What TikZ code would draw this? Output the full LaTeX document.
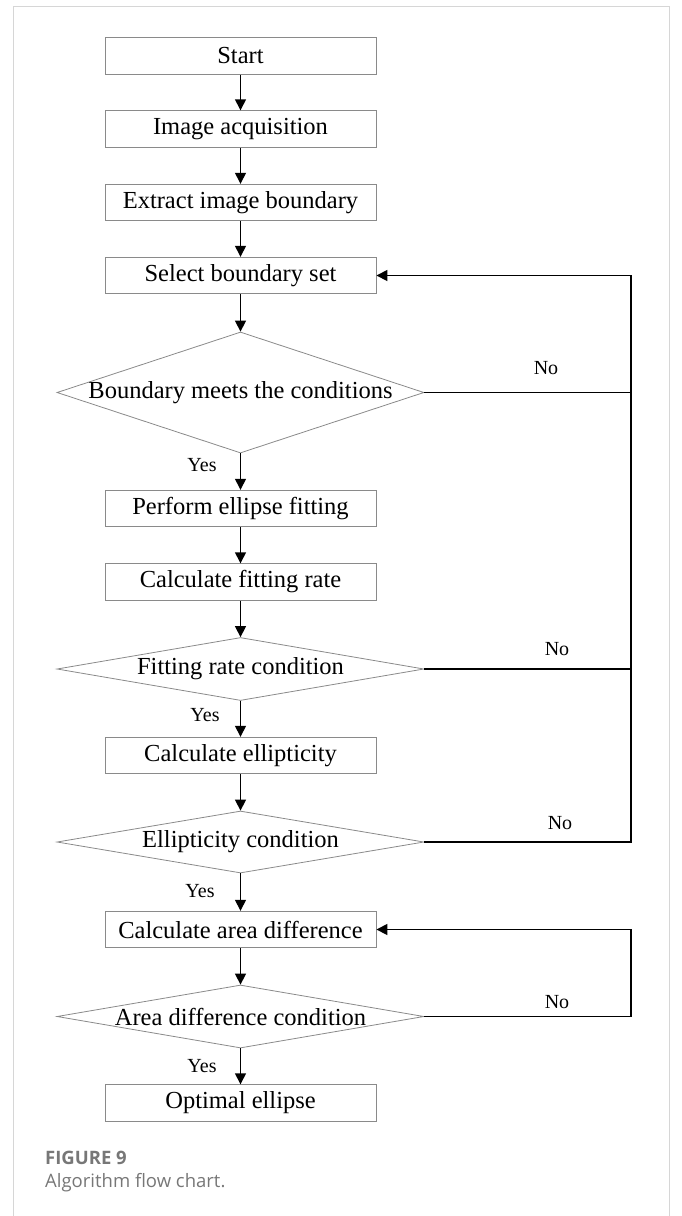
\documentclass[tikz,border=0pt]{standalone}
\usepackage{fontspec}
\setmainfont{Liberation Serif}
\newfontfamily\capfont{Open Sans}
\usetikzlibrary{shapes.geometric,arrows.meta}
\definecolor{boxgray}{HTML}{8A8A8A}
\definecolor{framegray}{HTML}{D6D6D6}
\definecolor{capgray}{HTML}{777777}
\begin{document}
\begin{tikzpicture}[x=1pt,y=-1pt,
  procbox/.style={draw=boxgray, line width=0.9pt, minimum width=271pt, minimum height=36.5pt, inner sep=0pt, font=\fontsize{24.5}{28}\selectfont},
  decbox/.style={draw=boxgray, line width=0.8pt, shape=diamond, minimum width=367pt, inner sep=0pt},
  dtext/.style={font=\fontsize{24.5}{28}\selectfont, inner sep=0pt},
  flow/.style={line width=1.4pt, -{Triangle[length=11pt,width=11pt]}},
  loopline/.style={line width=1.7pt},
  looparrow/.style={line width=1.7pt, -{Triangle[length=11pt,width=11pt]}},
  yn/.style={font=\fontsize{20}{24}\selectfont, inner sep=0pt},
  capbold/.style={font=\capfont\bfseries\fontsize{18.5}{22}\selectfont, text=capgray, inner sep=0pt, anchor=west},
  captext/.style={font=\capfont\fontsize{18.5}{22}\selectfont, text=capgray, inner sep=0pt, anchor=west},
]
\useasboundingbox (0,0) rectangle (682,1216);
% frame
\draw[framegray, line width=0.9pt] (13,1216) -- (13,6) -- (669,6) -- (669,1216);

% process boxes
\node[procbox] (start)    at (240.5,56)    {Start};
\node[procbox] (acq)      at (240.5,129)   {Image acquisition};
\node[procbox] (extract)  at (240.5,202.5) {Extract image boundary};
\node[procbox] (select)   at (240.5,275.5) {Select boundary set};
\node[decbox, minimum height=121pt] (d1) at (240.5,392.5) {};
\node[dtext] (d1t) at (d1.center) {Boundary meets the conditions};
\node[procbox] (perform)  at (240.5,508.5) {Perform ellipse fitting};
\node[procbox] (calcfit)  at (240.5,582)   {Calculate fitting rate};
\node[decbox, minimum height=63pt] (d2) at (240.5,669) {};
\node[dtext] (d2t) at (d2.center) {Fitting rate condition};
\node[procbox] (calcell)  at (240.5,755.5) {Calculate ellipticity};
\node[decbox, minimum height=62pt] (d3) at (240.5,842) {};
\node[dtext] (d3t) at (d3.center) {Ellipticity condition};
\node[procbox] (calcarea) at (240.5,929.5) {Calculate area difference};
\node[decbox, minimum height=63pt] (d4) at (240.5,1016.5) {};
\node[dtext] (d4t) at (d4.center) {Area difference condition};
\node[procbox] (optimal)  at (240.5,1103)  {Optimal ellipse};

% main flow
\draw[flow] (start) -- (acq);
\draw[flow] (acq) -- (extract);
\draw[flow] (extract) -- (select);
\draw[flow] (select) -- (d1.north);
\draw[flow] (d1.south) -- (perform);
\draw[flow] (perform) -- (calcfit);
\draw[flow] (calcfit) -- (d2.north);
\draw[flow] (d2.south) -- (calcell);
\draw[flow] (calcell) -- (d3.north);
\draw[flow] (d3.south) -- (calcarea);
\draw[flow] (calcarea) -- (d4.north);
\draw[flow] (d4.south) -- (optimal);

% Yes labels
\node[yn] (y1) at (202,465)  {Yes};
\node[yn] (y2) at (205,715)  {Yes};
\node[yn] (y3) at (200,891)  {Yes};
\node[yn] (y4) at (202,1066) {Yes};

% feedback loops
\coordinate (rx) at (631,0);
\draw[loopline] (d1.east) -- (d1.east -| rx);
\draw[loopline] (d2.east) -- (d2.east -| rx);
\draw[looparrow] (d3.east) -- (d3.east -| rx) |- (select.east);
\draw[looparrow] (d4.east) -- (d4.east -| rx) |- (calcarea.east);

% No labels
\node[yn] (n1) at (546,368)  {No};
\node[yn] (n2) at (557,649)  {No};
\node[yn] (n3) at (560,823)  {No};
\node[yn] (n4) at (557,1002) {No};

% caption
\node[capbold] (fig) at (45,1158) {FIGURE 9};
\node[captext] (cap) at (45,1183) {Algorithm flow chart.};
\end{tikzpicture}
\end{document}
